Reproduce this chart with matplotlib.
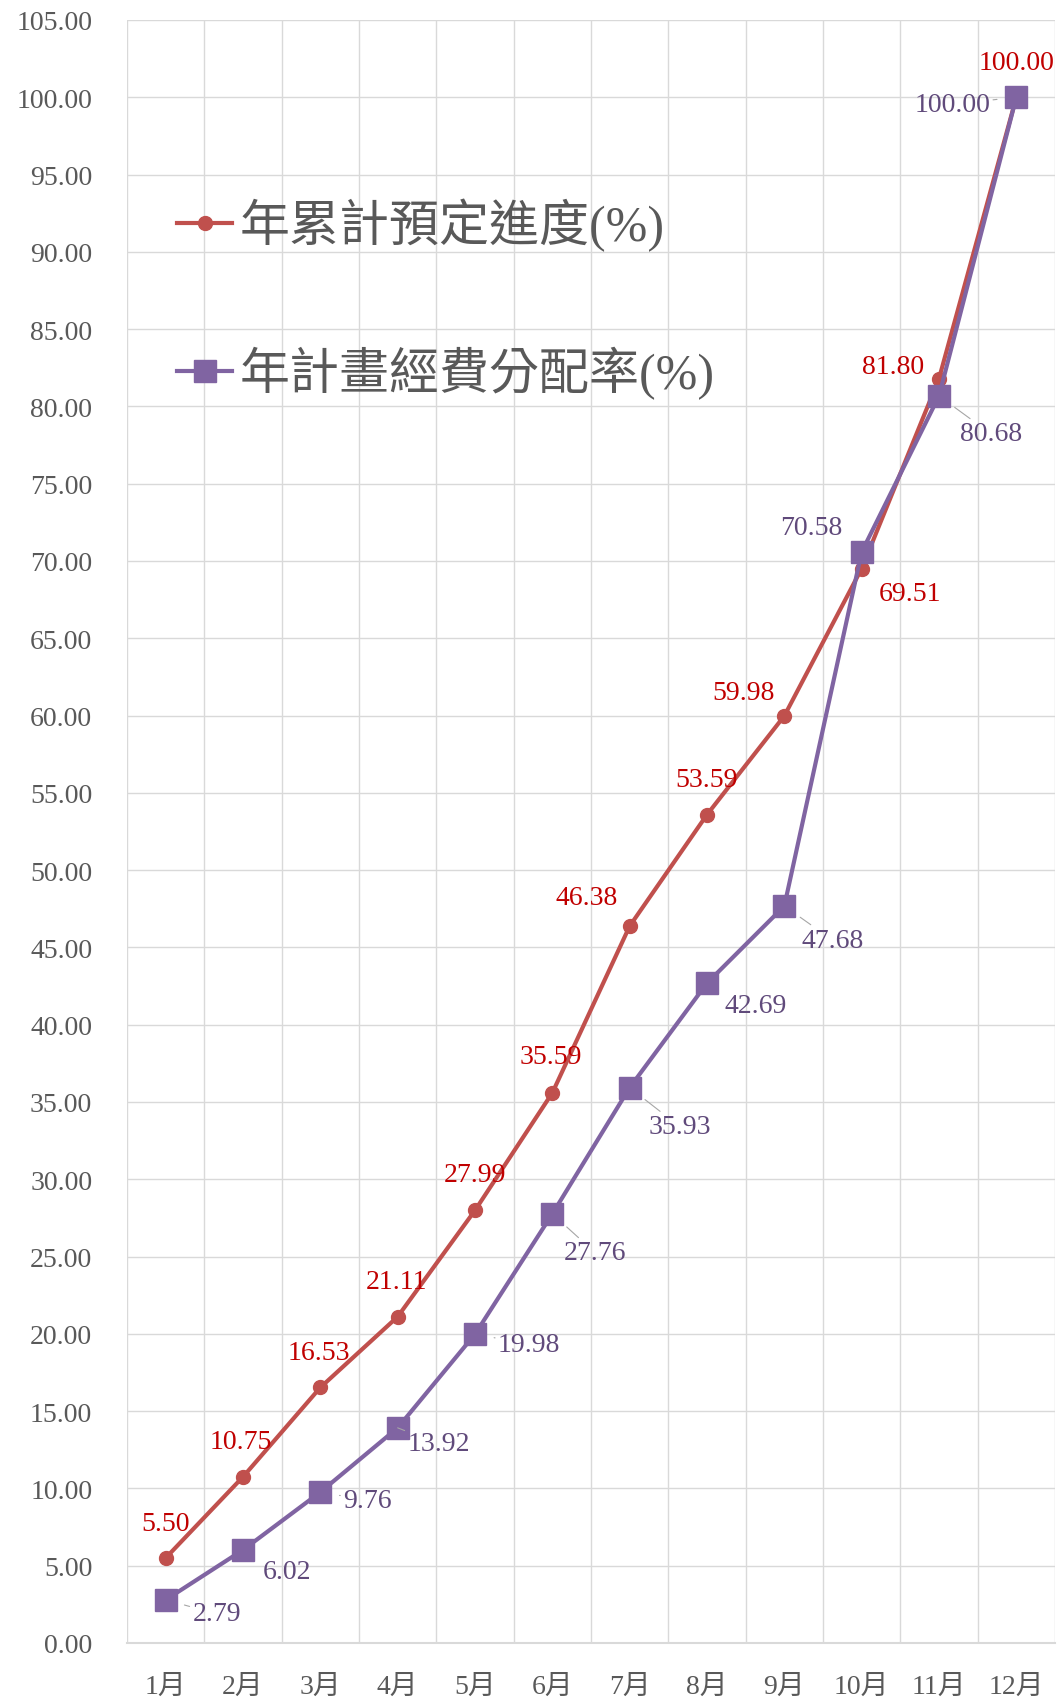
import matplotlib
matplotlib.use("Agg")
import matplotlib.pyplot as plt
import numpy as np

plt.rcParams['font.family'] = ['Liberation Serif', 'Noto Sans CJK TC', 'DejaVu Sans']

# donnees
mois = ["1月", "2月", "3月", "4月", "5月", "6月", "7月", "8月", "9月", "10月", "11月", "12月"]
progres = [5.50, 10.75, 16.53, 21.11, 27.99, 35.59, 46.38, 53.59, 59.98, 69.51, 81.80, 100.00]
budget = [2.79, 6.02, 9.76, 13.92, 19.98, 27.76, 35.93, 42.69, 47.68, 70.58, 80.68, 100.00]
nom_progres = "年累計預定進度(%)"
nom_budget = "年計畫經費分配率(%)"

# decalages des etiquettes (pixels)
off_progres = [(0, 34), (-2, 35), (-1, 35), (-1, 35), (0, 36), (-2, 36),
               (-43, 29), (0, 35), (-41, 23), (48, -25), (-46, 12), (0, 35)]
off_budget = [(51, -14), (44, -22), (47, -8), (41, -16), (54, -10), (43, -39),
              (50, -39), (49, -22), (48, -34), (-50, 25), (52, -38), (-64, -7)]
fleche_budget = [True, False, True, True, True, True, True, False, True, False, True, True]

c_rouge, c_violet = "#C0504D", "#8064A2"
c_txt_rouge, c_txt_violet = "#C00000", "#604A7B"
gris = "#595959"

fig = plt.figure(figsize=(10.61, 16.99), dpi=100)
ax = fig.add_axes([127/1061, 1-1644/1699, (1055-127)/1061, (1644-21)/1699])

x = np.arange(len(mois))
ax.plot(x, progres, color=c_rouge, lw=3.0, marker="o", ms=10, label=nom_progres, zorder=3)
ax.plot(x, budget, color=c_violet, lw=3.0, marker="s", ms=16, label=nom_budget, zorder=4)

for i in range(len(mois)):
    ax.annotate(f"{progres[i]:.2f}", (x[i], progres[i]), xytext=off_progres[i],
                textcoords="offset pixels", ha="center", va="center",
                fontsize=20, color=c_txt_rouge, zorder=5)
    props = dict(arrowstyle="-", color="#A6A6A6", lw=0.8, shrinkA=0, shrinkB=14) if fleche_budget[i] else None
    ax.annotate(f"{budget[i]:.2f}", (x[i], budget[i]), xytext=off_budget[i],
                textcoords="offset pixels", ha="center", va="center",
                fontsize=20, color=c_txt_violet, arrowprops=props, zorder=5)

ax.set_xlim(-0.5, 11.5)
ax.set_ylim(0, 105)
ax.set_yticks(np.arange(0, 106, 5))
ax.set_yticklabels([f"{v:.2f}" for v in np.arange(0, 106, 5)])
ax.set_xticks(x)
ax.set_xticklabels(mois)
ax.set_xticks(np.arange(-0.5, 12, 1), minor=True)
ax.tick_params(axis="both", which="both", length=0, labelsize=20, colors=gris)
ax.tick_params(axis="y", pad=25)
ax.tick_params(axis="x", pad=22)
ax.grid(axis="y", which="major", color="#D9D9D9", lw=1)
ax.grid(axis="x", which="minor", color="#D9D9D9", lw=1)
ax.set_axisbelow(True)
for s in ["top", "right", "left"]:
    ax.spines[s].set_visible(False)
ax.spines["bottom"].set_color("#D9D9D9")
ax.spines["bottom"].set_linewidth(1.5)

leg = ax.legend(loc="upper left", bbox_to_anchor=(152/1061, 1-174/1699),
                bbox_transform=fig.transFigure, frameon=False, fontsize=36,
                labelspacing=1.9, handlelength=1.1, handletextpad=0.15, borderpad=0)
for t in leg.get_texts():
    t.set_color(gris)

fig.savefig("out.png", dpi=100)
